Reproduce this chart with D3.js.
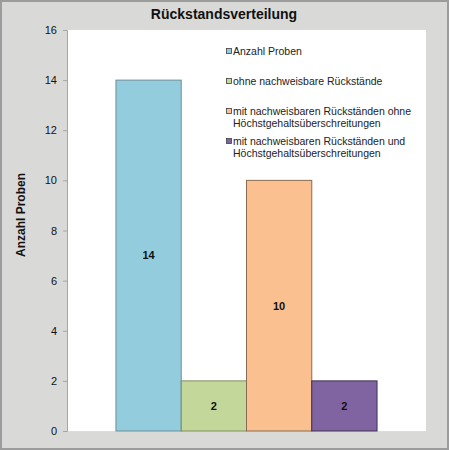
<!DOCTYPE html>
<html>
<head>
<meta charset="utf-8">
<script src="https://cdn.jsdelivr.net/npm/d3@7"></script>
<style>
  body { margin: 0; background: #ffffff; }
  svg { display: block; font-family: "Liberation Sans", Arial, sans-serif; }
</style>
</head>
<body>
<svg id="chart" width="449" height="450"></svg>
<script>
// data
var seriesNames = [
    "Anzahl Proben",
    "ohne nachweisbare Rückstände",
    "mit nachweisbaren Rückständen ohne Höchstgehaltsüberschreitungen",
    "mit nachweisbaren Rückständen und Höchstgehaltsüberschreitungen"
];
var legendLines = [
    ["Anzahl Proben"],
    ["ohne nachweisbare Rückstände"],
    ["mit nachweisbaren Rückständen ohne", "Höchstgehaltsüberschreitungen"],
    ["mit nachweisbaren Rückständen und", "Höchstgehaltsüberschreitungen"]
];
var seriesValues = [14, 2, 10, 2];
var yTicks = [0, 2, 4, 6, 8, 10, 12, 14, 16];
var fillColors = ["#93cddd", "#c4d79b", "#fac090", "#8064a2"];
var strokeColors = ["#6b8f99", "#7f8c5f", "#8a6a52", "#3f3151"];

var svg = d3.select("svg#chart");
var width = 449, height = 450;

// outer frame
svg.append("rect")
    .attr("x", 1).attr("y", 1)
    .attr("width", width - 2).attr("height", height - 2)
    .attr("fill", "#d9dad8")
    .attr("stroke", "#9c9c9c")
    .attr("stroke-width", 2);

var margin = { top: 30, right: 23, bottom: 19, left: 67 };
var plotWidth = width - margin.left - margin.right;
var plotHeight = height - margin.top - margin.bottom;

var plot = svg.append("g")
    .attr("transform", "translate(" + margin.left + "," + margin.top + ")");

plot.append("rect")
    .attr("width", plotWidth)
    .attr("height", plotHeight)
    .attr("fill", "#ffffff");

var yScale = d3.scaleLinear()
    .domain([0, 16])
    .range([plotHeight, 0]);

// one category, four series side by side, gap width 150%
var groupWidth = plotWidth * 4 / (4 + 1.5);
var groupStart = (plotWidth - groupWidth) / 2;
var barScale = d3.scaleBand()
    .domain(seriesNames)
    .range([groupStart, groupStart + groupWidth]);

// bottom line of the plot
plot.append("line")
    .attr("x1", 0).attr("x2", plotWidth)
    .attr("y1", plotHeight + 0.5).attr("y2", plotHeight + 0.5)
    .attr("stroke", "#dcdcdc");

var yAxis = d3.axisLeft(yScale)
    .tickValues(yTicks)
    .tickSize(4)
    .tickPadding(6);

var yGroup = plot.append("g").call(yAxis);
yGroup.select(".domain").attr("stroke", "#a6a6a6");
yGroup.selectAll(".tick line").attr("stroke", "#a6a6a6");
yGroup.selectAll(".tick text")
    .attr("fill", "#111111")
    .style("font-size", "11px");

var bars = seriesNames.map(function(name, i) {
    return { name: name, value: seriesValues[i], i: i };
});

plot.selectAll("rect.bar")
    .data(bars)
    .enter().append("rect")
    .attr("class", "bar")
    .attr("x", function(d) { return barScale(d.name); })
    .attr("y", function(d) { return yScale(d.value); })
    .attr("width", barScale.bandwidth())
    .attr("height", function(d) { return plotHeight - yScale(d.value); })
    .attr("fill", function(d) { return fillColors[d.i]; })
    .attr("stroke", function(d) { return strokeColors[d.i]; })
    .attr("stroke-width", 1);

plot.selectAll("text.value")
    .data(bars)
    .enter().append("text")
    .attr("class", "value")
    .attr("x", function(d) { return barScale(d.name) + barScale.bandwidth() / 2; })
    .attr("y", function(d) { return (yScale(d.value) + plotHeight) / 2; })
    .attr("dy", "0.35em")
    .attr("text-anchor", "middle")
    .style("font-size", "11px")
    .style("font-weight", "bold")
    .attr("fill", "#111111")
    .text(function(d) { return d.value; });

// legend
var legend = svg.append("g").attr("transform", "translate(226,0)");
var legendY = [51, 81, 111, 141];
legendLines.forEach(function(lines, i) {
    legend.append("rect")
        .attr("x", 0.5).attr("y", legendY[i] - 2.5)
        .attr("width", 5).attr("height", 5)
        .attr("fill", fillColors[i])
        .attr("stroke", "#404040")
        .attr("stroke-width", 0.8);
    lines.forEach(function(line, j) {
        legend.append("text")
            .attr("x", 7)
            .attr("y", legendY[i] + j * 12)
            .attr("dy", "0.35em")
            .style("font-size", "10.5px")
            .attr("fill", "#222222")
            .text(line);
    });
});

// title
svg.append("text")
    .attr("x", 224)
    .attr("y", 19)
    .attr("text-anchor", "middle")
    .style("font-size", "14px")
    .style("font-weight", "bold")
    .attr("fill", "#111111")
    .text("Rückstandsverteilung");

// y axis title
svg.append("text")
    .attr("transform", "translate(21," + 215 + ") rotate(-90)")
    .attr("text-anchor", "middle")
    .attr("dy", "0.35em")
    .style("font-size", "12px")
    .style("font-weight", "bold")
    .attr("fill", "#111111")
    .text("Anzahl Proben");
</script>
</body>
</html>
